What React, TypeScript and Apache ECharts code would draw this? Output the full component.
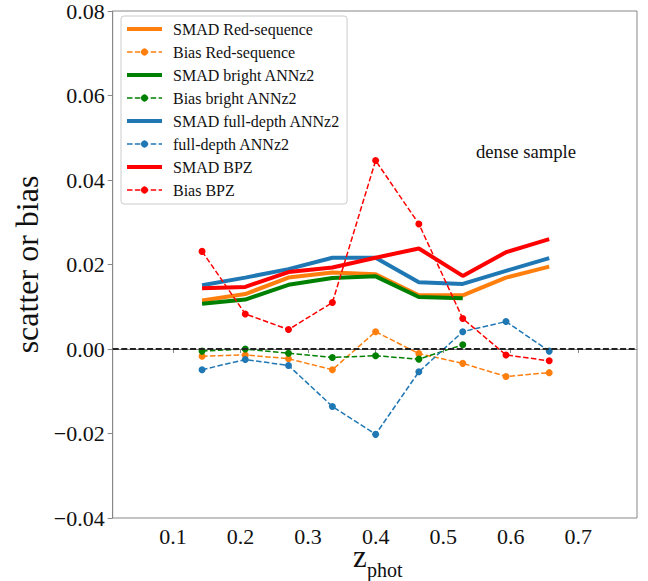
import React, { useEffect, useRef } from "react";
import * as echarts from "echarts";

const zValues = [0.143, 0.207, 0.271, 0.336, 0.4, 0.464, 0.529, 0.593, 0.657];
const smadRS = [0.0115, 0.013, 0.0169, 0.0181, 0.0177, 0.0127, 0.0127, 0.0169, 0.0195];
const biasRS = [-0.0017, -0.0014, -0.0023, -0.0049, 0.0041, -0.0011, -0.0034, -0.0065, -0.0056];
const smadBright = [0.0107, 0.0117, 0.0152, 0.0168, 0.0172, 0.0123, 0.012];
const biasBright = [-0.0005, 0.0, -0.001, -0.002, -0.0016, -0.0024, 0.001];
const smadFull = [0.0151, 0.0169, 0.0189, 0.0216, 0.0216, 0.0158, 0.0154, 0.0185, 0.0215];
const biasFull = [-0.0049, -0.0025, -0.0039, -0.0136, -0.0202, -0.0054, 0.0041, 0.0065, -0.0005];
const smadBPZ = [0.0144, 0.0147, 0.0182, 0.0193, 0.0216, 0.0238, 0.0173, 0.0229, 0.026];
const biasBPZ = [0.0231, 0.0083, 0.0046, 0.011, 0.0446, 0.0296, 0.0072, -0.0014, -0.0028];

const xTicks = [0.1, 0.2, 0.3, 0.4, 0.5, 0.6, 0.7];
const FONT = "'Liberation Serif', 'Times New Roman', serif";

const ORANGE = "#ff7f0e";
const GREEN = "#008000";
const BLUE = "#1f77b4";
const RED = "#ff0000";

function pairs(ys: number[]) {
  return ys.map((y, i) => [zValues[i], y]);
}

function solid(name: string, color: string, ys: number[]) {
  return {
    name,
    type: "line",
    data: pairs(ys),
    symbol: "none",
    showSymbol: false,
    lineStyle: { color, width: 4 },
    itemStyle: { color },
    z: 2,
  };
}

function dashed(name: string, color: string, ys: number[]) {
  return {
    name,
    type: "line",
    data: pairs(ys),
    symbol: "circle",
    symbolSize: 7,
    showSymbol: true,
    lineStyle: { color, width: 1.5, type: [5.5, 2.4] },
    itemStyle: { color, borderWidth: 0 },
    z: 3,
  };
}

const tickRich = { t: { fontFamily: FONT, fontSize: 22, color: "#111" } };

export default function App() {
  const ref = useRef<HTMLDivElement>(null);
  useEffect(() => {
    if (!ref.current) return;
    const chart = echarts.init(ref.current, null, { renderer: "svg" });
    const series: any[] = [
      solid("SMAD Red-sequence", ORANGE, smadRS),
      dashed("Bias Red-sequence", ORANGE, biasRS),
      solid("SMAD bright ANNz2", GREEN, smadBright),
      dashed("Bias bright ANNz2", GREEN, biasBright),
      solid("SMAD full-depth ANNz2", BLUE, smadFull),
      dashed("full-depth ANNz2", BLUE, biasFull),
      solid("SMAD BPZ", RED, smadBPZ),
      dashed("Bias BPZ", RED, biasBPZ),
    ];
    series[7].markLine = {
      silent: true,
      symbol: "none",
      label: { show: false },
      lineStyle: { color: "#222", width: 1.8, type: [6, 2.6] },
      data: [{ yAxis: 0 }],
      z: 5,
    };
    chart.setOption({
      animation: false,
      backgroundColor: "#fff",
      textStyle: { fontFamily: FONT },
      grid: {
        left: 112.7,
        right: 11,
        top: 8,
        bottom: 63,
        show: true,
        borderColor: "#888",
        borderWidth: 1,
        backgroundColor: "transparent",
      },
      legend: {
        left: 121,
        top: 16,
        orient: "vertical",
        selectedMode: false,
        backgroundColor: "rgba(255,255,255,0.8)",
        borderColor: "#cccccc",
        borderWidth: 1,
        borderRadius: 3,
        padding: [5, 7, 6, 4],
        itemWidth: 35,
        itemHeight: 9,
        itemGap: 7,
        textStyle: {
          fontFamily: FONT,
          fontSize: 16,
          color: "#111",
          padding: [0, 0, 0, 6],
        },
        data: series.map((s, i) =>
          i % 2 === 0
            ? {
                name: s.name,
                itemStyle: { color: "rgba(0,0,0,0)", borderWidth: 0, opacity: 0 },
                lineStyle: { width: 4 },
              }
            : { name: s.name, lineStyle: { width: 1.5 } }
        ),
      },
      xAxis: {
        type: "value",
        min: 0.0107,
        max: 0.787,
        splitLine: { show: false },
        axisLine: { show: true, lineStyle: { color: "#888", width: 1 } },
        axisTick: {
          show: true,
          length: 4,
          customValues: xTicks,
          lineStyle: { color: "#888" },
        },
        axisLabel: {
          customValues: xTicks,
          formatter: (v: number) => "{t|" + v.toFixed(1) + "}",
          rich: tickRich,
          fontFamily: FONT,
          fontSize: 22,
          color: "#111",
          margin: 7,
        },
      },
      yAxis: {
        type: "value",
        min: -0.04,
        max: 0.08,
        interval: 0.02,
        name: "scatter or bias",
        nameLocation: "middle",
        nameGap: 66,
        nameRotate: 90,
        nameTextStyle: { fontFamily: FONT, fontSize: 32, color: "#111" },
        splitLine: { show: false },
        axisLine: { show: true, lineStyle: { color: "#888", width: 1 } },
        axisTick: { show: true, length: 5, lineStyle: { color: "#888" } },
        axisLabel: {
          fontFamily: FONT,
          fontSize: 22,
          color: "#111",
          margin: 8,
          rich: tickRich,
          formatter: (v: number) => {
            const r = Math.round(v * 100) / 100;
            const s = r < 0 ? "\u2212" + Math.abs(r).toFixed(2) : r.toFixed(2);
            return "{t|" + s + "}";
          },
        },
      },
      graphic: [
        {
          type: "text",
          x: 526,
          y: 151,
          style: {
            text: "dense sample",
            fontFamily: FONT,
            fontSize: 18.7,
            fill: "#111",
            textAlign: "center",
            textVerticalAlign: "middle",
          },
        },
        {
          type: "text",
          x: 353,
          y: 572,
          style: {
            text: "z",
            fontFamily: FONT,
            fontSize: 31,
            fill: "#111",
            textAlign: "left",
            textVerticalAlign: "bottom",
          },
        },
        {
          type: "text",
          x: 367,
          y: 580,
          style: {
            text: "phot",
            fontFamily: FONT,
            fontSize: 20,
            fill: "#111",
            textAlign: "left",
            textVerticalAlign: "bottom",
          },
        },
      ],
      series,
    });
    return () => chart.dispose();
  }, []);
  return (
    <div
      ref={ref}
      style={{ position: "fixed", left: 0, top: 0, width: 648, height: 581 }}
    />
  );
}
